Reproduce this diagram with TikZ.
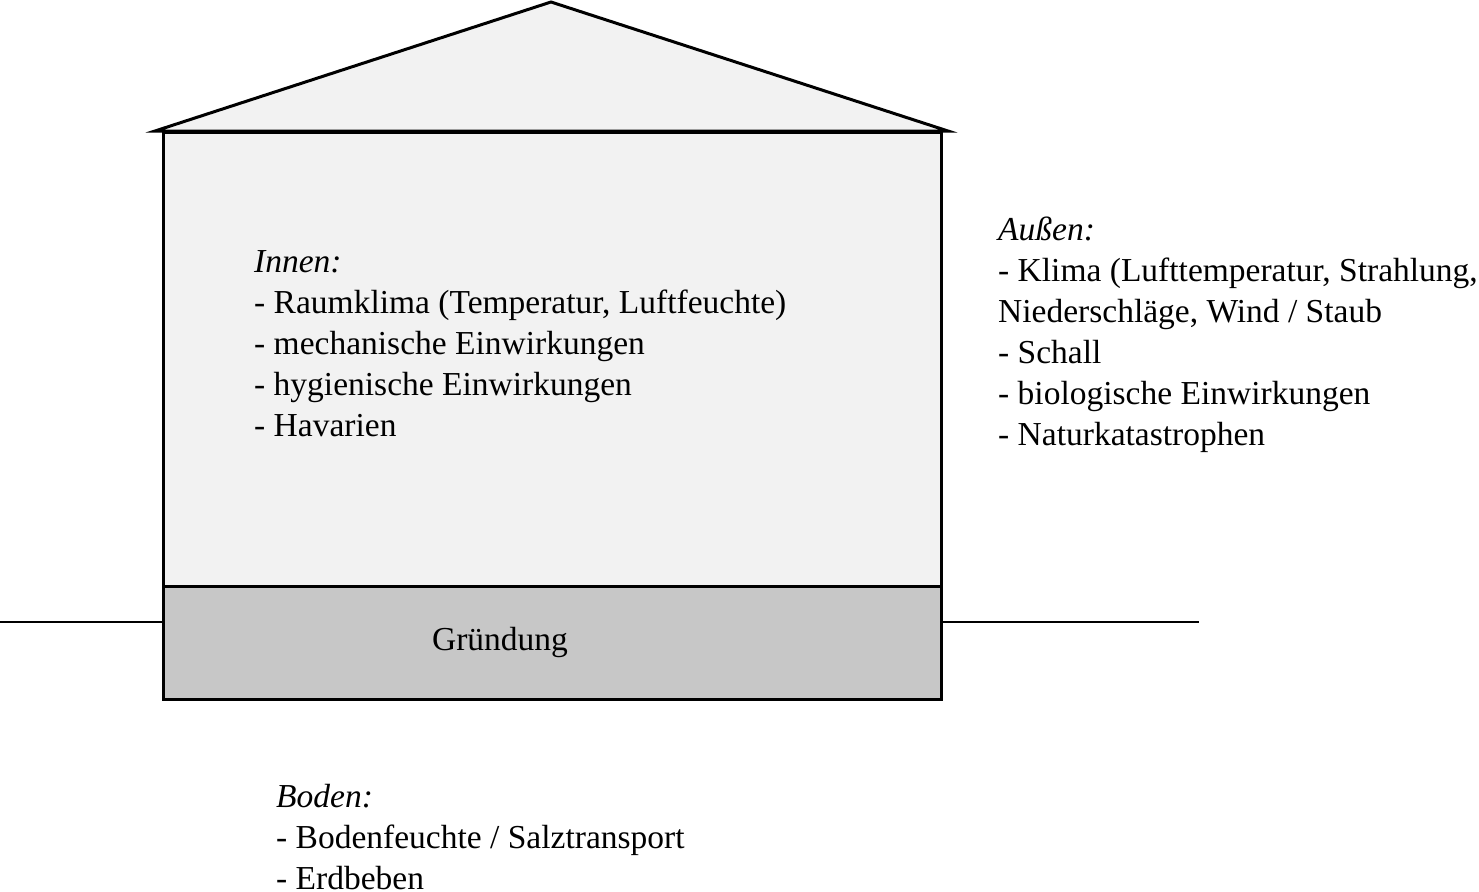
\documentclass[tikz,border=0pt]{standalone}
\usepackage{fontspec}
\setmainfont{Liberation Serif}
\begin{document}
\begin{tikzpicture}[x=1pt,y=-1pt,
  wall/.style={draw=black,line width=3pt},
  txt/.style={anchor=north west,inner sep=0pt,align=left,font=\fontsize{33.5}{41}\selectfont}]
\useasboundingbox (0,0) rectangle (1479,891);
\coordinate (gl) at (0,622);
\coordinate (gr) at (1199,622);
\path[wall,fill=black!5] (155,131) -- (551,2) -- (948,131) -- cycle;
\node[wall,fill=black!5,minimum width=778pt,minimum height=454pt,anchor=north west,inner sep=0pt] (body) at (162,131) {};
\node[wall,fill=black!22,minimum width=778pt,minimum height=113pt,anchor=north west,inner sep=0pt] (found) at (162,585) {};
\node[font=\fontsize{33.5}{41}\selectfont] (gr1) at (500,642) {Gründung};
\draw[line width=2pt] (gl) -- (found.west |- gl);
\draw[line width=2pt] (found.east |- gr) -- (gr);
\node[txt] (innen) at (254,250) {\textit{Innen:}\\- Raumklima (Temperatur, Luftfeuchte)\\- mechanische Einwirkungen\\- hygienische Einwirkungen\\- Havarien};
\node[txt] (aussen) at (998,217) {\textit{Außen:}\\- Klima (Lufttemperatur, Strahlung,\\Niederschläge, Wind / Staub\\- Schall\\- biologische Einwirkungen\\- Naturkatastrophen};
\node[txt] (boden) at (276,784) {\textit{Boden:}\\- Bodenfeuchte / Salztransport\\- Erdbeben};
\end{tikzpicture}
\end{document}
